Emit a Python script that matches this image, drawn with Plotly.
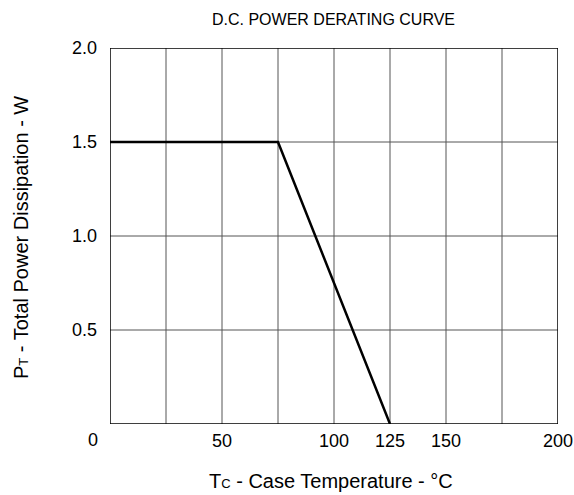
import plotly.graph_objects as go

temp_c = [0, 75, 125]
power_w = [1.5, 1.5, 0]
x_tick_vals = [50, 100, 125, 150, 200]
x_tick_text = ["50", "100", "125", "150", "200"]
y_tick_vals = [0.5, 1.0, 1.5, 2.0]
y_tick_text = ["0.5", "1.0", "1.5", "2.0"]
x_grid = [25, 50, 75, 100, 125, 150, 175]
y_grid = [0.5, 1.0, 1.5]

W, H = 574, 495
L, R, T, B = 110, 16, 48, 71

fig = go.Figure()
fig.add_trace(go.Scatter(x=temp_c, y=power_w, mode="lines",
                         line=dict(color="black", width=2.5), showlegend=False,
                         hoverinfo="skip", cliponaxis=False))

shapes = []
for gx in x_grid:
    shapes.append(dict(type="line", xref="x", yref="y", x0=gx, x1=gx, y0=0, y1=2,
                       line=dict(color="#555555", width=1), layer="below"))
for gy in y_grid:
    shapes.append(dict(type="line", xref="x", yref="y", x0=0, x1=200, y0=gy, y1=gy,
                       line=dict(color="#555555", width=1), layer="below"))
shapes.append(dict(type="rect", xref="x", yref="y", x0=0, x1=200, y0=0, y1=2,
                   line=dict(color="black", width=1.5), layer="above"))

pw = W - L - R
ph = H - T - B


def px_x(px):
    return (px - L) / pw


def px_y(py):
    return (H - B - py) / ph


font = dict(family="Liberation Sans, Arial, sans-serif", color="black")
fig.update_layout(
    width=W, height=H,
    margin=dict(l=L, r=R, t=T, b=B, autoexpand=False),
    plot_bgcolor="white", paper_bgcolor="white",
    font=font,
    shapes=shapes,
    xaxis=dict(range=[0, 200], tickvals=x_tick_vals, ticktext=x_tick_text,
               showgrid=False, zeroline=False, showline=False, ticks="",
               tickfont=dict(size=18), automargin=False, ticklabelstandoff=4),
    yaxis=dict(range=[0, 2], tickvals=y_tick_vals, ticktext=y_tick_text,
               showgrid=False, zeroline=False, showline=False, ticks="",
               tickfont=dict(size=18), automargin=False, ticklabelstandoff=12),
    annotations=[
        dict(text="D.C. POWER DERATING CURVE", xref="paper", yref="paper",
             x=px_x(333), y=px_y(20), xanchor="center", yanchor="middle",
             showarrow=False, font=dict(size=16)),
        dict(text='T<span style="font-size:13px">C</span> - Case Temperature - °C',
             xref="paper", yref="paper", x=px_x(331), y=px_y(481),
             xanchor="center", yanchor="middle", showarrow=False, font=dict(size=20)),
        dict(text='P<span style="font-size:13px">T</span> - Total Power Dissipation - W',
             xref="paper", yref="paper", x=px_x(21), y=px_y(238), textangle=-90,
             xanchor="center", yanchor="middle", showarrow=False, font=dict(size=20)),
        dict(text="0", xref="paper", yref="paper", x=px_x(93), y=px_y(440),
             xanchor="center", yanchor="middle", showarrow=False, font=dict(size=18)),
    ],
)
fig.write_html("out.html", config={"displayModeBar": False},
               post_script="document.body.style.margin='0';document.body.style.overflow='hidden';")
